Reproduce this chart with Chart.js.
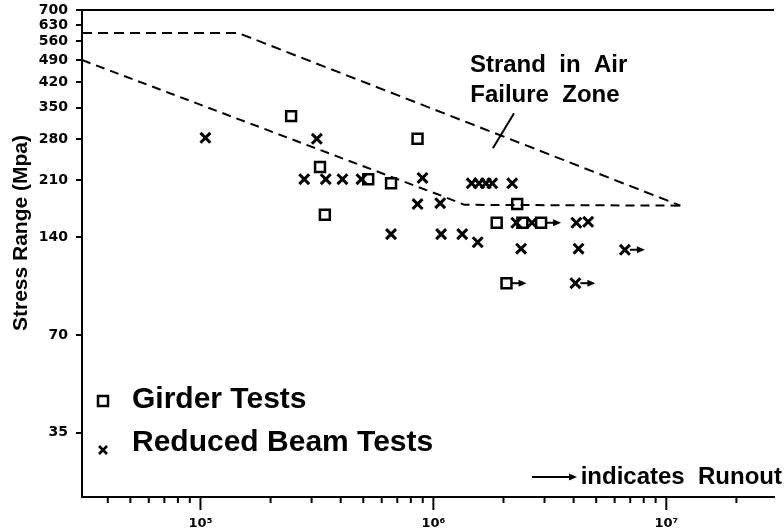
<!DOCTYPE html>
<html>
<head>
<meta charset="utf-8">
<script src="https://cdn.jsdelivr.net/npm/chart.js@4.4.0/dist/chart.umd.min.js"></script>
<style>
  html, body { margin: 0; padding: 0; background: #fff; }
  #wrap { width: 784px; height: 530px; }
</style>
</head>
<body>
<div id="wrap"><canvas id="snChart" width="784" height="530"></canvas></div>
<script>
// Girder tests (squares) - cycles / stress range in MPa
const girderCycles = [2.45e5, 3.26e5, 3.42e5, 5.25e5, 6.58e5, 8.55e5, 1.87e6, 2.29e6, 2.41e6, 2.90e6, 2.06e6];
const girderStress = [330, 230, 164, 211, 205, 281, 155, 177, 155, 155, 101];
const girderRunout = [false, false, false, false, false, false, false, false, false, true, true];

// Reduced beam tests (crosses)
const beamCycles = [1.05e5, 3.16e5, 2.79e5, 3.45e5, 4.07e5, 4.91e5, 8.98e5, 8.55e5, 1.07e6, 6.58e5, 1.08e6,
  1.33e6, 1.55e6, 1.46e6, 1.57e6, 1.68e6, 1.79e6, 2.18e6, 2.27e6, 2.65e6, 4.11e6, 4.62e6, 2.38e6, 4.20e6, 6.64e6, 4.07e6];
const beamStress = [283, 281, 211, 211, 211, 211, 213, 177, 178, 143, 143,
  143, 135, 205, 205, 205, 205, 205, 155, 155, 155, 156, 129, 129, 128, 101];
const beamRunout = [false, false, false, false, false, false, false, false, false, false, false,
  false, false, false, false, false, false, false, false, false, false, false, false, false, true, true];

// Strand in air failure zone bounds
const upperCycles = [3.1e4, 1.45e5, 1.15e7];
const upperStress = [595, 595, 175];
const lowerCycles = [3.1e4, 1.12e6, 1.36e6, 1.15e7];
const lowerStress = [491, 186, 176, 175];

// Axis ticks
const yTickValues = [35, 70, 140, 210, 280, 350, 420, 490, 560, 630, 700];
const xTickValues = [4e4, 5e4, 6e4, 7e4, 8e4, 9e4, 1e5, 2e5, 3e5, 4e5, 5e5, 6e5, 7e5, 8e5, 9e5, 1e6,
  2e6, 3e6, 4e6, 5e6, 6e6, 7e6, 8e6, 9e6, 1e7, 2e7];
const xMajorValues = [1e5, 1e6, 1e7];
const xMajorLabels = ["10\u2075", "10\u2076", "10\u2077"];

const toPoints = (xs, ys) => xs.map((x, i) => ({ x: x, y: ys[i] }));
const majorLabel = (v) => {
  const i = xMajorValues.indexOf(v);
  return i >= 0 ? xMajorLabels[i] : "";
};

const textFont = "'Liberation Sans', Arial, sans-serif";

// extra drawing: frame top, x ticks, runout arrows, annotation, legend
const extras = {
  id: "extras",
  afterDraw(chart) {
    const ctx = chart.ctx;
    const area = chart.chartArea;
    const xs = chart.scales.x;
    const ys = chart.scales.y;
    ctx.save();
    ctx.strokeStyle = "#000";
    ctx.fillStyle = "#000";

    // top frame line
    ctx.lineWidth = 2;
    ctx.beginPath();
    ctx.moveTo(area.left, area.top);
    ctx.lineTo(area.right, area.top);
    ctx.stroke();

    // x ticks below axis, major ones longer
    xs.ticks.forEach((t) => {
      const px = xs.getPixelForValue(t.value);
      const len = majorLabel(t.value) ? 13 : 6;
      ctx.beginPath();
      ctx.moveTo(px, area.bottom);
      ctx.lineTo(px, area.bottom + len);
      ctx.stroke();
    });

    // runout arrows
    const arrow = (x0, x1, y) => {
      ctx.lineWidth = 2;
      ctx.beginPath();
      ctx.moveTo(x0, y);
      ctx.lineTo(x1 - 6, y);
      ctx.stroke();
      ctx.beginPath();
      ctx.moveTo(x1, y);
      ctx.lineTo(x1 - 8, y - 3.5);
      ctx.lineTo(x1 - 8, y + 3.5);
      ctx.closePath();
      ctx.fill();
    };
    [[0, girderRunout], [1, beamRunout]].forEach(([di, flags]) => {
      const meta = chart.getDatasetMeta(di);
      flags.forEach((f, j) => {
        if (!f) return;
        const el = meta.data[j];
        arrow(el.x + 5, el.x + 20, el.y);
      });
    });

    // annotation
    ctx.font = "bold 24px " + textFont;
    ctx.textBaseline = "middle";
    ctx.textAlign = "left";
    ctx.fillText("Strand  in  Air", xs.getPixelForValue(1.435e6), ys.getPixelForValue(474));
    ctx.fillText("Failure  Zone", xs.getPixelForValue(1.44e6), ys.getPixelForValue(383));
    ctx.lineWidth = 2;
    ctx.beginPath();
    ctx.moveTo(xs.getPixelForValue(2.22e6), ys.getPixelForValue(337));
    ctx.lineTo(xs.getPixelForValue(1.80e6), ys.getPixelForValue(263));
    ctx.stroke();

    // legend
    ctx.lineWidth = 2.5;
    ctx.strokeRect(98, 396, 10, 10);
    ctx.beginPath();
    ctx.moveTo(99, 446); ctx.lineTo(107, 454);
    ctx.moveTo(107, 446); ctx.lineTo(99, 454);
    ctx.stroke();
    ctx.font = "bold 30px " + textFont;
    ctx.fillText("Girder Tests", 132, 400);
    ctx.fillText("Reduced Beam Tests", 132, 443);

    ctx.font = "bold 24px " + textFont;
    ctx.textAlign = "right";
    ctx.fillText("indicates  Runout", 782, 477);
    arrow(532, 577, 477);

    // y axis title
    ctx.translate(21, 233);
    ctx.rotate(-Math.PI / 2);
    ctx.textAlign = "center";
    ctx.font = "bold 21px " + textFont;
    ctx.fillText("Stress Range (Mpa)", 0, 0);
    ctx.restore();
  }
};

new Chart(document.getElementById("snChart"), {
  type: "scatter",
  data: {
    datasets: [
      {
        label: "Girder Tests",
        data: toPoints(girderCycles, girderStress),
        pointStyle: "rect",
        pointRadius: 7,
        borderWidth: 2.5,
        borderColor: "#000",
        backgroundColor: "rgba(0,0,0,0)"
      },
      {
        label: "Reduced Beam Tests",
        data: toPoints(beamCycles, beamStress),
        pointStyle: "crossRot",
        pointRadius: 7,
        borderWidth: 3,
        borderColor: "#000",
        backgroundColor: "#000"
      },
      {
        label: "upper",
        data: toPoints(upperCycles, upperStress),
        showLine: true,
        pointRadius: 0,
        borderColor: "#000",
        borderWidth: 2,
        borderDash: [10, 6]
      },
      {
        label: "lower",
        data: toPoints(lowerCycles, lowerStress),
        showLine: true,
        pointRadius: 0,
        borderColor: "#000",
        borderWidth: 2,
        borderDash: [9, 6]
      }
    ]
  },
  options: {
    responsive: false,
    animation: false,
    devicePixelRatio: 1,
    events: [],
    layout: { padding: { top: 10, right: 0, left: 0, bottom: 0 } },
    plugins: {
      legend: { display: false },
      tooltip: { enabled: false }
    },
    scales: {
      x: {
        type: "logarithmic",
        min: 3.1e4,
        max: 2.9e7,
        afterBuildTicks: (s) => { s.ticks = xTickValues.map((v) => ({ value: v })); },
        afterFit: (s) => { s.height = 33; },
        ticks: {
          autoSkip: false,
          maxRotation: 0,
          padding: 19,
          color: "#000",
          font: { family: "DejaVu Sans", weight: "bold", size: 13 },
          callback: (v) => majorLabel(v)
        },
        grid: { display: true, drawOnChartArea: false, drawTicks: false },
        border: { display: true, color: "#000", width: 2 }
      },
      y: {
        type: "logarithmic",
        min: 22.2,
        max: 700,
        afterBuildTicks: (s) => { s.ticks = yTickValues.map((v) => ({ value: v })); },
        afterFit: (s) => { s.width = 82; s.paddingTop = 0; s.paddingBottom = 0; },
        ticks: {
          autoSkip: false,
          padding: 8,
          color: "#000",
          font: { family: "DejaVu Sans", weight: "bold", size: 14 },
          callback: (v) => String(v)
        },
        grid: { display: true, drawOnChartArea: false, drawTicks: true, tickLength: 6, color: "#000", lineWidth: 2 },
        border: { display: true, color: "#000", width: 2 }
      }
    }
  },
  plugins: [extras]
});
</script>
</body>
</html>
